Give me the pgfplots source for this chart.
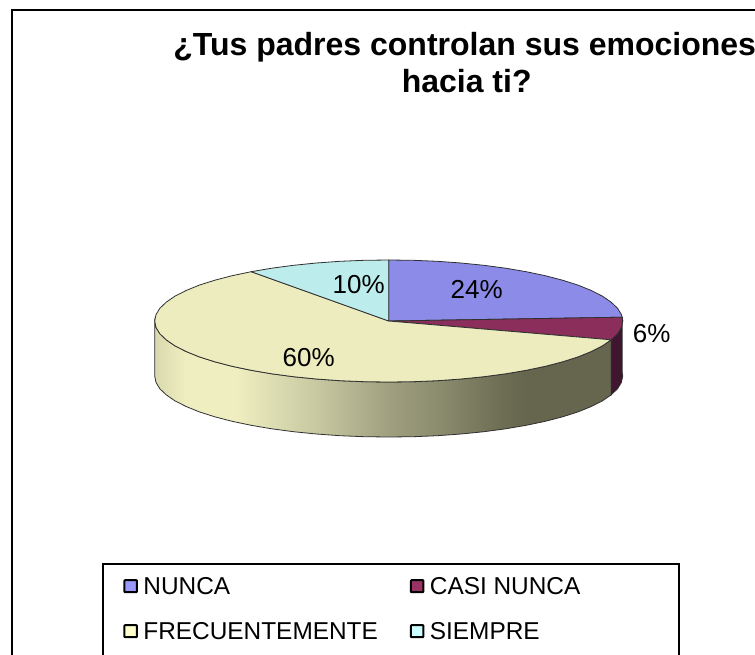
\documentclass[border=0pt]{standalone}
\usepackage{pgfplots}
\usepackage{fontspec}
\setmainfont{Liberation Sans}
\pgfplotsset{compat=1.18}
\definecolor{topN}{HTML}{8C8CE8}
\definecolor{topC}{HTML}{8C2E5C}
\definecolor{topF}{HTML}{ECECBE}
\definecolor{topS}{HTML}{BCECEC}
\definecolor{legN}{HTML}{9999FF}
\definecolor{legC}{HTML}{993366}
\definecolor{legF}{HTML}{FFFFCC}
\definecolor{legS}{HTML}{CCFFFF}
\definecolor{wallC}{HTML}{3F1530}
\definecolor{edge}{HTML}{303030}
\definecolor{w0}{HTML}{D9D9AF}
\definecolor{w1}{HTML}{EEEEC0}
\definecolor{w2}{HTML}{D0D0A8}
\definecolor{w3}{HTML}{A0A080}
\definecolor{w4}{HTML}{86866A}
\definecolor{w5}{HTML}{6E6E55}
\definecolor{w6}{HTML}{66664F}
\pgfdeclarehorizontalshading{wallshade}{100bp}{
  color(0bp)=(w0); color(25bp)=(w0); color(28.4bp)=(w1); color(33.9bp)=(w1);
  color(41bp)=(w2); color(50.6bp)=(w3); color(57.4bp)=(w4); color(62.9bp)=(w5);
  color(65.6bp)=(w6); color(100bp)=(w6)}
\newcommand{\swatch}[1]{\draw[line width=2pt,black,fill=#1,rounded corners=0.6pt] (0pt,-6pt) rectangle (12.5pt,6pt);}
\begin{document}
\begin{tikzpicture}
\useasboundingbox (0,0) rectangle (755pt,654pt);
\begin{axis}[
  at={(0,0)}, anchor=south west,
  scale only axis, width=755pt, height=654pt,
  xmin=-0.7, xmax=754.3, ymin=0, ymax=654, y dir=reverse,
  hide axis,
  legend columns=2,
  legend cell align=left,
  legend style={
    at={(axis cs:102.5,564)}, anchor=north west,
    draw=none, fill=none,
    font=\fontsize{24.4}{24.4}\selectfont,
    inner xsep=20pt, inner ysep=12pt,
    row sep=25pt, column sep=0pt,
    nodes={inner sep=1.5pt, text height=17pt, text depth=0pt, anchor=west},
  },
]
% side walls
\addplot[forget plot, draw=edge, line width=0.8pt, shading=wallshade, shading angle=0] coordinates {
(610.5,339.8)(601.8,345.8)(590.6,351.5)(577.3,356.9)(561.9,361.8)(544.6,366.3)(525.5,370.3)(505,373.8)(483.2,376.7)(460.3,379)(436.7,380.7)(412.5,381.7)(388,382)(363.5,381.7)(339.3,380.7)(315.7,379)(292.8,376.7)(271,373.8)(250.5,370.3)(231.4,366.3)(214.1,361.8)(198.7,356.9)(185.4,351.5)(174.2,345.8)(165.5,339.8)(159.1,333.7)(155.3,327.4)(154,321)
(154,376)(155.3,382.4)(159.1,388.7)(165.5,394.8)(174.2,400.8)(185.4,406.5)(198.7,411.9)(214.1,416.8)(231.4,421.3)(250.5,425.3)(271,428.8)(292.8,431.7)(315.7,434)(339.3,435.7)(363.5,436.7)(388,437)(412.5,436.7)(436.7,435.7)(460.3,434)(483.2,431.7)(505,428.8)(525.5,425.3)(544.6,421.3)(561.9,416.8)(577.3,411.9)(590.6,406.5)(601.8,400.8)(610.5,394.8)
} -- cycle;
\addplot[forget plot, draw=edge, line width=0.8pt, fill=wallC] coordinates {
(621.5,317.2)(622,321)(620.7,327.4)(616.9,333.7)(610.5,339.8)(610.5,394.8)(616.9,388.7)(620.7,382.4)(622,376)(621.5,372.2)
} -- cycle;
% top faces
\addplot[draw=edge, line width=0.8pt, line join=round, fill=topN, legend image code/.code={\swatch{legN}}] coordinates {
(388,321)(388,260)(412.5,260.3)(436.7,261.3)(460.3,263)(483.2,265.3)(505,268.2)(525.5,271.7)(544.6,275.7)(561.9,280.2)(577.3,285.1)(590.6,290.5)(601.8,296.2)(610.5,302.2)(616.9,308.3)(620.7,314.6)(621.5,317.2)
} -- cycle;
\addlegendentry{\hspace{4pt}\makebox[265pt][l]{NUNCA}}
\addplot[draw=edge, line width=0.8pt, line join=round, fill=topC, legend image code/.code={\swatch{legC}}] coordinates {
(388,321)(621.5,317.2)(622,321)(620.7,327.4)(616.9,333.7)(610.5,339.8)
} -- cycle;
\addlegendentry{\hspace{4pt}\makebox[225pt][l]{CASI NUNCA}}
\addplot[draw=edge, line width=0.8pt, line join=round, fill=topF, legend image code/.code={\swatch{legF}}] coordinates {
(388,321)(610.5,339.8)(601.8,345.8)(590.6,351.5)(577.3,356.9)(561.9,361.8)(544.6,366.3)(525.5,370.3)(505,373.8)(483.2,376.7)(460.3,379)(436.7,380.7)(412.5,381.7)(388,382)(363.5,381.7)(339.3,380.7)(315.7,379)(292.8,376.7)(271,373.8)(250.5,370.3)(231.4,366.3)(214.1,361.8)(198.7,356.9)(185.4,351.5)(174.2,345.8)(165.5,339.8)(159.1,333.7)(155.3,327.4)(154,321)(155.3,314.6)(159.1,308.3)(165.5,302.2)(174.2,296.2)(185.4,290.5)(198.7,285.1)(214.1,280.2)(231.4,275.7)(250.5,271.7)
} -- cycle;
\addlegendentry{\hspace{4pt}\makebox[265pt][l]{FRECUENTEMENTE}}
\addplot[draw=edge, line width=0.8pt, line join=round, fill=topS, legend image code/.code={\swatch{legS}}] coordinates {
(388,321)(250.5,271.7)(271,268.2)(292.8,265.3)(315.7,263)(339.3,261.3)(363.5,260.3)(388,260)
} -- cycle;
\addlegendentry{\hspace{4pt}\makebox[225pt][l]{SIEMPRE}}
% frame and legend box
\addplot[forget plot, black, line width=1.8pt] coordinates {(11.5,660)(11.5,10)(760,10)};
\addplot[forget plot, black, line width=1.8pt] coordinates {(102.5,660)(102.5,564)(678,564)(678,660)};
% data labels
\node[font=\fontsize{26}{26}\selectfont] at (axis cs:476,289) {24\%};
\node[font=\fontsize{26}{26}\selectfont] at (axis cs:651,334) {6\%};
\node[font=\fontsize{26}{26}\selectfont] at (axis cs:308,358) {60\%};
\node[font=\fontsize{26}{26}\selectfont] at (axis cs:358,285) {10\%};
% title
\node[font=\fontsize{32}{32}\selectfont\bfseries, anchor=base] at (axis cs:464,55) {¿Tus padres controlan sus emociones};
\node[font=\fontsize{32}{32}\selectfont\bfseries, anchor=base] at (axis cs:466,92) {hacia ti?};
\end{axis}
\end{tikzpicture}
\end{document}
